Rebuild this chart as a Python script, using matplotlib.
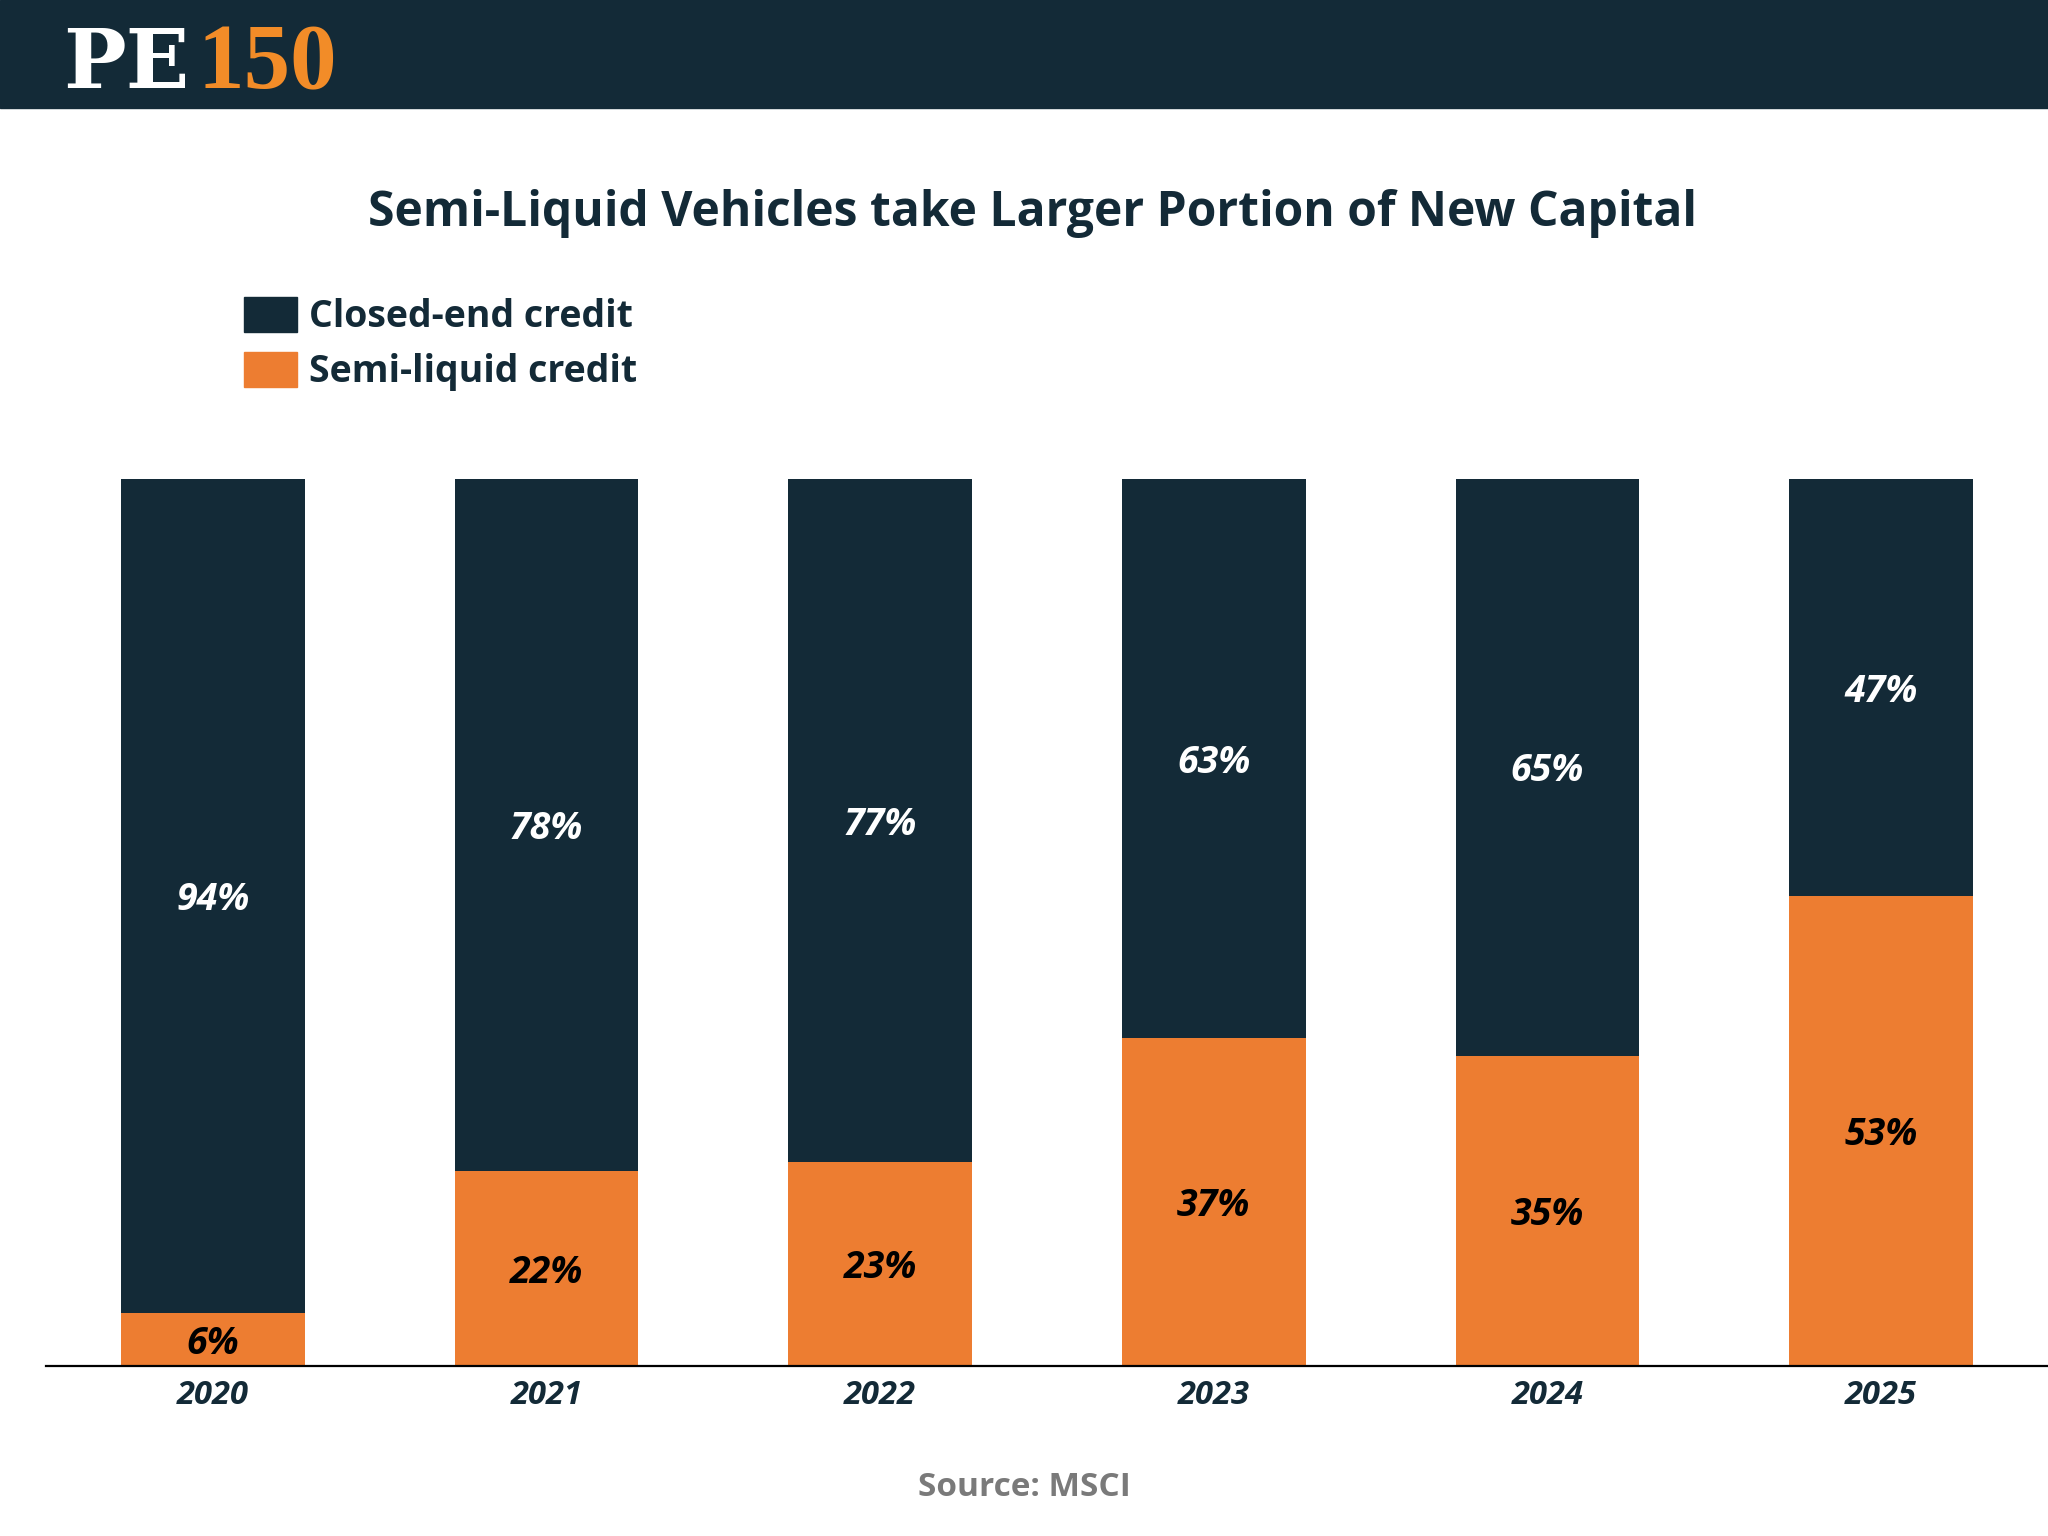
import matplotlib.pyplot as plt
from matplotlib.patches import Rectangle, Patch

years = ['2020', '2021', '2022', '2023', '2024', '2025']
semi_liquid = [6, 22, 23, 37, 35, 53]
closed_end = [94, 78, 77, 63, 65, 47]

NAVY = '#132a37'
ORANGE = '#ed7d31'

plt.rcParams['font.family'] = ['Open Sans', 'DejaVu Sans']

fig = plt.figure(figsize=(20.48, 15.36), dpi=100)

# header band with logo
fig.patches.append(Rectangle((0, 1 - 108 / 1536), 1, 108 / 1536, transform=fig.transFigure,
                             color=NAVY, zorder=0))
fig.text(0.031, 1 - 88 / 1536, 'PE', family='DejaVu Serif', weight='bold',
         fontsize=60, color='white', va='baseline', ha='left')
fig.text(0.0965, 1 - 88 / 1536, '150', family='Liberation Serif', weight='bold',
         fontsize=67, color='#f28c28', va='baseline', ha='left')

fig.text(0.504, 1 - 214 / 1536, 'Semi-Liquid Vehicles take Larger Portion of New Capital',
         ha='center', va='center', fontsize=34.6, weight='bold', color=NAVY)

ax = fig.add_axes([46 / 2048, 1 - 1366 / 1536, 1 - 46 / 2048, (1366 - 479) / 1536])
x = range(len(years))
bw = 0.55
b1 = ax.bar(x, semi_liquid, width=bw, color=ORANGE, label='Semi-liquid credit')
b2 = ax.bar(x, closed_end, width=bw, bottom=semi_liquid, color=NAVY, label='Closed-end credit')

for i in x:
    ax.annotate(f'{semi_liquid[i]}%', (i, semi_liquid[i] / 2), xytext=(0, -3),
                textcoords='offset points', ha='center', va='center',
                fontsize=27, weight='bold', style='italic', color='black')
    ax.annotate(f'{closed_end[i]}%', (i, semi_liquid[i] + closed_end[i] / 2), xytext=(0, -3),
                textcoords='offset points', ha='center', va='center',
                fontsize=27, weight='bold', style='italic', color='white')

ax.set_xlim(-0.5, 5.5)
ax.set_ylim(0, 100)
ax.set_xticks(list(x))
ax.set_xticklabels(years, fontsize=23.5, weight='bold', style='italic', color=NAVY)
ax.tick_params(axis='x', length=0, pad=9)
ax.set_yticks([])
for s in ['top', 'right', 'left']:
    ax.spines[s].set_visible(False)
ax.spines['bottom'].set_linewidth(1.6)
ax.spines['bottom'].set_color('black')

handles = [Patch(color=NAVY, label='Closed-end credit'), Patch(color=ORANGE, label='Semi-liquid credit')]
leg = fig.legend(handles=handles, loc='upper left', bbox_to_anchor=(244 / 2048, 1 - 297 / 1536),
                 frameon=False, fontsize=27, handlelength=1.4, handleheight=1.05,
                 handletextpad=0.33, labelspacing=0.42, borderpad=0, borderaxespad=0)
for t in leg.get_texts():
    t.set_color(NAVY)
    t.set_weight('bold')

fig.text(0.5, 1 - 1487 / 1536, 'Source: MSCI', ha='center', va='center',
         fontsize=24, weight='bold', color='#7a7a7a')

fig.savefig('out.png', dpi=100)
